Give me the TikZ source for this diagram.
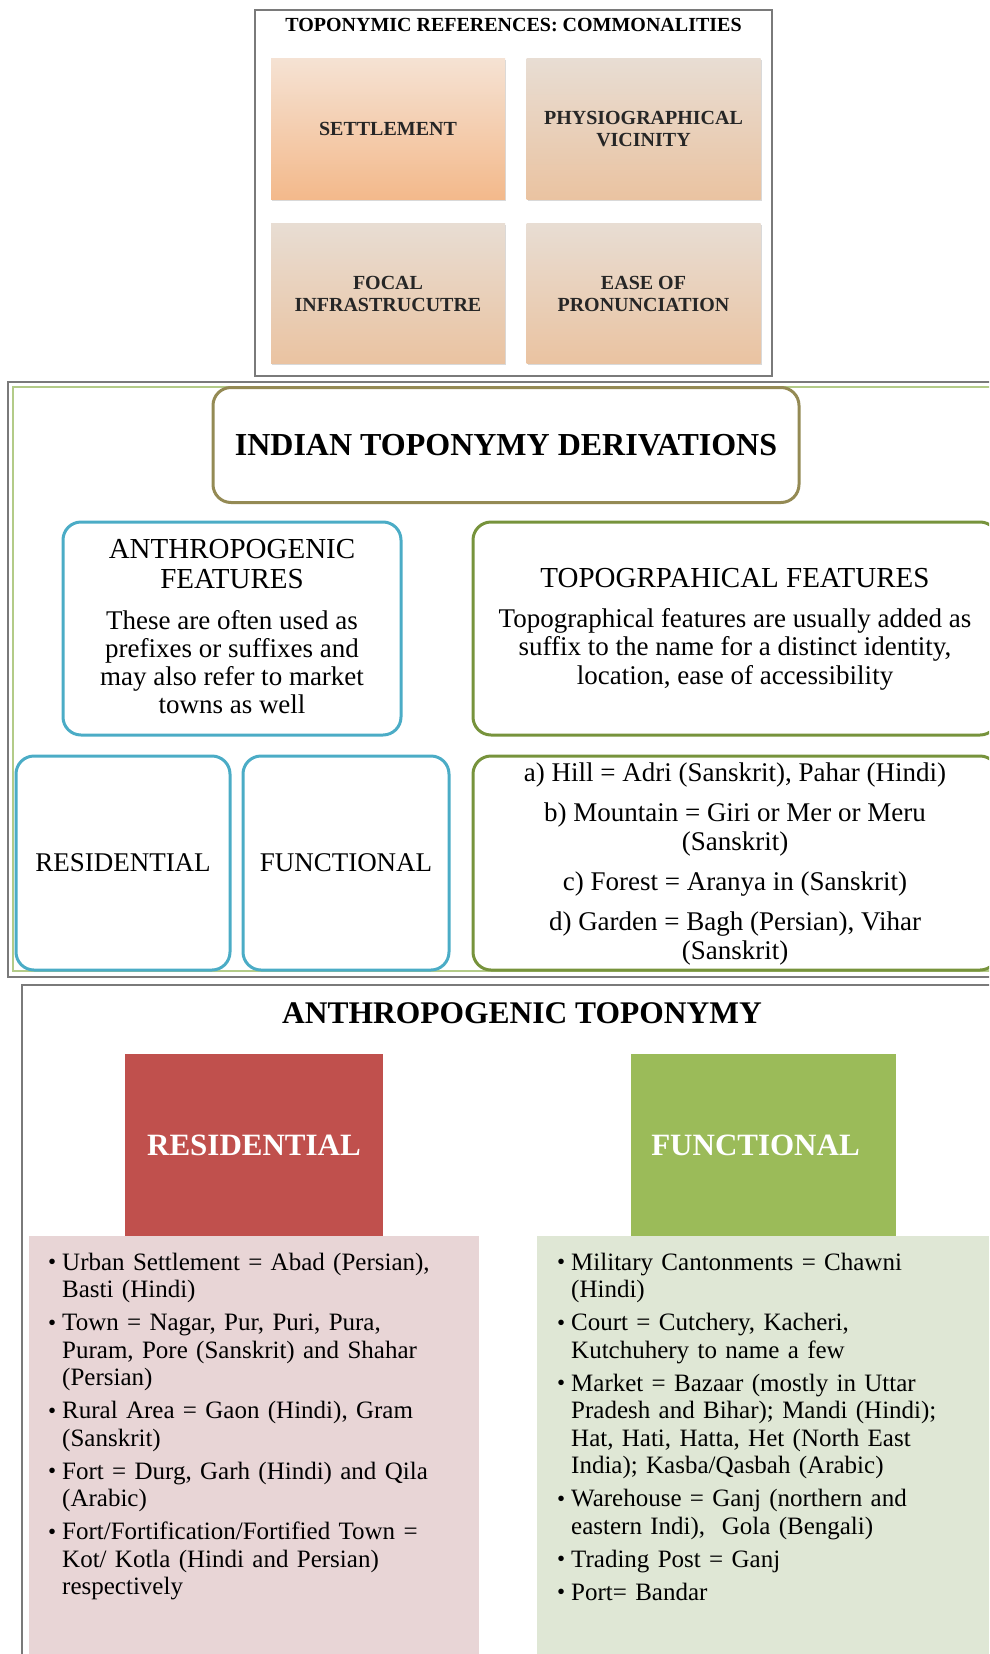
\documentclass[tikz,border=0pt]{standalone}
\usepackage{fontspec}
\setmainfont{Liberation Serif}
\usepackage{enumitem}
\usetikzlibrary{shadows}

\definecolor{framegray}{HTML}{7A7A7A}
\definecolor{framegreen}{HTML}{B3CB88}
\definecolor{peachtop}{HTML}{F5E2D3}
\definecolor{peachbot}{HTML}{F3B98B}
\definecolor{tantop}{HTML}{E8DDD3}
\definecolor{tanbot}{HTML}{EAC3A1}
\definecolor{khaki}{HTML}{948A54}
\definecolor{aqua}{HTML}{4BACC6}
\definecolor{olive}{HTML}{77933C}
\definecolor{resred}{HTML}{C0504D}
\definecolor{fungreen}{HTML}{9BBB59}
\definecolor{respink}{HTML}{E8D5D6}
\definecolor{funpale}{HTML}{DFE7D5}

\newcommand{\dotlabel}{\raisebox{0.5pt}{\fontsize{23}{23}\selectfont\textbullet}}

\tikzset{
  tile/.style={draw=none, minimum width=234, minimum height=140, align=center,
    font=\fontsize{20}{22}\selectfont\bfseries, text=black!85,
    drop shadow={shadow xshift=1pt, shadow yshift=-1.5pt, opacity=0.3}},
  roundbox/.style={draw=#1, line width=3pt, rounded corners=18pt},
  heading/.style={font=\fontsize{29}{30}\selectfont, align=center},
  blurb/.style={font=\fontsize{27}{28.5}\selectfont, align=center},
  colhead/.style={text=white, font=\fontsize{31}{33}\selectfont\bfseries,
    minimum width=258, minimum height=182},
  listtext/.style={anchor=north west, inner sep=0pt, text width=430,
    align=left, font=\fontsize{25}{27.5}\selectfont}
}

\begin{document}
\begin{tikzpicture}[x=1pt, y=-1pt]
\useasboundingbox (0,0) rectangle (989,1654);
\clip (0,0) rectangle (989,1654);

\draw[framegray, line width=2pt] (255,10) rectangle (772,376);
\node[font=\fontsize{20}{22}\selectfont\bfseries] (common) at (513.5,25) {TOPONYMIC REFERENCES: COMMONALITIES};
\node[tile, top color=peachtop, bottom color=peachbot] (settle) at (388,129) {SETTLEMENT};
\node[tile, top color=tantop, bottom color=tanbot] (physio) at (643.5,129) {PHYSIOGRAPHICAL\\VICINITY};
\node[tile, top color=tantop, bottom color=tanbot] (focal) at (388,293.5) {FOCAL\\INFRASTRUCUTRE};
\node[tile, top color=tantop, bottom color=tanbot] (ease) at (643.5,293.5) {EASE OF\\PRONUNCIATION};

\draw[framegray, line width=2.5pt] (8,382) rectangle (1000,977);
\draw[framegreen, line width=1.5pt] (13,387) rectangle (1000,971);
\node[roundbox=khaki, minimum width=586, minimum height=115,
  font=\fontsize{32}{34}\selectfont\bfseries] (derive) at (506,445) {INDIAN TOPONYMY DERIVATIONS};

\node[roundbox=aqua, minimum width=338, minimum height=213] (anthbox) at (232,628.5) {};
\node[heading] (anthhead) at (232,564) {ANTHROPOGENIC\\FEATURES};
\node[blurb, font=\fontsize{27}{28}\selectfont] (anthtext) at (232,662) {These are often used as\\prefixes or suffixes and\\may also refer to market\\towns as well};

\node[roundbox=olive, minimum width=525, minimum height=213] (topobox) at (735.5,628.5) {};
\node[heading] (topohead) at (735,578) {TOPOGRPAHICAL FEATURES};
\node[blurb] (topotext) at (735,649) {Topographical features are usually added as\\suffix to the name for a distinct identity,\\location, ease of accessibility};

\node[roundbox=aqua, minimum width=214, minimum height=214,
  font=\fontsize{27}{29}\selectfont] (resbox) at (123,863) {RESIDENTIAL};
\node[roundbox=aqua, minimum width=206, minimum height=214,
  font=\fontsize{27}{29}\selectfont] (funbox) at (346,863) {FUNCTIONAL};
\node[roundbox=olive, minimum width=525, minimum height=214] (hillbox) at (735.5,863) {};
\node[font=\fontsize{27}{29}\selectfont, align=center] (hilltext) at (735,864) {a) Hill = Adri (Sanskrit), Pahar (Hindi)\\[11pt]
  b) Mountain = Giri or Mer or Meru\\(Sanskrit)\\[11pt]
  c) Forest = Aranya in (Sanskrit)\\[11pt]
  d) Garden = Bagh (Persian), Vihar\\(Sanskrit)};

\draw[framegray, line width=2.5pt] (22,985) rectangle (1000,1670);
\node[font=\fontsize{31.5}{33}\selectfont\bfseries] (anthtopo) at (522,1013) {ANTHROPOGENIC TOPONYMY};

\node[fill=respink, minimum width=450, minimum height=430, anchor=north west] (reslistbox) at (29,1236) {};
\node[fill=funpale, minimum width=452, minimum height=430, anchor=north west] (funlistbox) at (537,1236) {};
\node[colhead, fill=resred] (reshead) at (254,1145) {RESIDENTIAL};
\node[colhead, fill=fungreen, minimum width=265] (funhead) at (763.5,1145) {\hspace*{-16pt}FUNCTIONAL};

\node[listtext] (reslist) at (46,1242.5) {%
\begin{itemize}[label=\dotlabel, leftmargin=16pt, labelsep=6pt, itemsep=5.5pt, topsep=0pt, parsep=0pt, partopsep=0pt]
\item Urban Settlement = Abad (Persian),\\Basti (Hindi)
\item Town = Nagar, Pur, Puri, Pura,\\Puram, Pore (Sanskrit) and Shahar\\(Persian)
\item Rural Area = Gaon (Hindi), Gram\\(Sanskrit)
\item Fort = Durg, Garh (Hindi) and Qila\\(Arabic)
\item Fort/Fortification/Fortified Town =\\Kot/ Kotla (Hindi and Persian)\\respectively
\end{itemize}};

\node[listtext] (funlist) at (554,1242.5) {%
\begin{itemize}[label=\dotlabel, leftmargin=17pt, labelsep=6pt, itemsep=5.5pt, topsep=0pt, parsep=0pt, partopsep=0pt]
\item Military Cantonments = Chawni\\(Hindi)
\item Court = Cutchery, Kacheri,\\Kutchuhery to name a few
\item Market = Bazaar (mostly in Uttar\\Pradesh and Bihar); Mandi (Hindi);\\Hat, Hati, Hatta, Het (North East\\India); Kasba/Qasbah (Arabic)
\item Warehouse = Ganj (northern and\\eastern Indi), \ Gola (Bengali)
\item Trading Post = Ganj
\item Port= Bandar
\end{itemize}};
\end{tikzpicture}
\end{document}
